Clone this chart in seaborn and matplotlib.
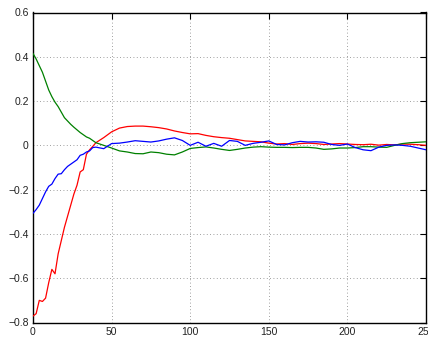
import numpy as np
import pandas as pd
import seaborn as sns
import matplotlib
matplotlib.use("Agg")
import matplotlib.pyplot as plt

# sample index (x) shared by all three traces
x = [0, 2, 4, 6, 8, 10, 12, 14, 16, 18, 20, 22, 24, 26, 28, 30, 32, 34, 36, 38, 40,
     45, 50, 55, 60, 65, 70, 75, 80, 85, 90, 95, 100, 105, 110, 115, 120, 125, 130,
     135, 140, 145, 150, 155, 160, 165, 170, 175, 180, 185, 190, 195, 200, 205, 210,
     215, 220, 225, 230, 235, 240, 245, 250]

red = [-0.771, -0.76, -0.70, -0.705, -0.69, -0.62, -0.56, -0.58, -0.49, -0.43, -0.37,
       -0.32, -0.27, -0.22, -0.18, -0.12, -0.11, -0.04, -0.02, -0.005, 0.012,
       0.035, 0.061, 0.078, 0.085, 0.087, 0.087, 0.084, 0.08, 0.074, 0.065, 0.058,
       0.052, 0.053, 0.045, 0.039, 0.035, 0.032, 0.026, 0.02, 0.018, 0.016, 0.01,
       0.006, 0.008, 0.004, 0.008, 0.01, 0.008, 0.004, 0.006, 0.008, 0.006, 0.004,
       0.003, 0.005, 0.001, 0.004, 0.002, 0.006, 0.005, 0.003, 0.0]

blue = [-0.307, -0.29, -0.27, -0.24, -0.21, -0.185, -0.175, -0.15, -0.13, -0.128, -0.11,
        -0.095, -0.085, -0.075, -0.065, -0.045, -0.04, -0.03, -0.025, -0.01, -0.008,
        -0.015, 0.008, 0.01, 0.015, 0.021, 0.018, 0.015, 0.02, 0.028, 0.034, 0.022,
        0.0, 0.014, -0.004, 0.009, -0.004, 0.022, 0.018, 0.0, 0.009, 0.014, 0.02,
        0.004, 0.002, 0.012, 0.018, 0.015, 0.016, 0.014, 0.004, 0.0, 0.006, -0.01,
        -0.02, -0.024, -0.008, 0.0, 0.002, 0.0, -0.004, -0.012, -0.02]

green = [0.415, 0.39, 0.36, 0.33, 0.29, 0.25, 0.22, 0.195, 0.175, 0.15, 0.125,
         0.11, 0.095, 0.082, 0.07, 0.058, 0.048, 0.038, 0.032, 0.022, 0.012,
         0.0, -0.012, -0.025, -0.03, -0.037, -0.038, -0.03, -0.033, -0.04, -0.043, -0.03,
         -0.014, -0.01, -0.007, -0.012, -0.018, -0.023, -0.018, -0.012, -0.008, -0.006,
         -0.008, -0.009, -0.009, -0.01, -0.009, -0.009, -0.012, -0.018, -0.016, -0.012,
         -0.012, -0.01, -0.006, -0.006, -0.008, -0.009, 0.0, 0.008, 0.012, 0.014, 0.016]

xticks = [0, 50, 100, 150, 200, 250]
yticks = [-0.8, -0.6, -0.4, -0.2, 0, 0.2, 0.4, 0.6]
ytick_labels = ['\u22120.8', '\u22120.6', '\u22120.4', '\u22120.2', '0', '0.2', '0.4', '0.6']

df = pd.DataFrame({
    'x': x * 3,
    'y': red + green + blue,
    'series': ['red'] * len(x) + ['green'] * len(x) + ['blue'] * len(x),
})

sns.set_style('white')
plt.rcParams['font.family'] = ['Liberation Sans', 'DejaVu Sans']

fig = plt.figure(figsize=(4.28, 3.39), dpi=100)
ax = fig.add_axes([33 / 428, 16.5 / 339, 393 / 428, 310 / 339])

sns.lineplot(data=df, x='x', y='y', hue='series',
             palette={'red': '#ff0000', 'green': '#008000', 'blue': '#0000ff'},
             linewidth=0.9, legend=False, ax=ax, zorder=3)

ax.set_xlim(0, 250)
ax.set_ylim(-0.8, 0.6)
ax.set_xticks(xticks)
ax.set_xticklabels([str(t) for t in xticks])
ax.set_yticks(yticks)
ax.set_yticklabels(ytick_labels)
ax.set_xlabel('')
ax.set_ylabel('')

ax.grid(True, linestyle=(0, (1, 3)), color='#808080', linewidth=0.6)
ax.set_axisbelow(True)

for s in ax.spines.values():
    s.set_visible(True)
    s.set_color('black')
    s.set_linewidth(1.0)

ax.tick_params(direction='in', length=4, width=0.8, labelsize=7.5, colors='black',
               top=True, right=True, pad=3)
ax.tick_params(axis='y', labelcolor='#222222')
ax.tick_params(axis='x', labelcolor='#222222')

fig.savefig('out.png', dpi=100)
